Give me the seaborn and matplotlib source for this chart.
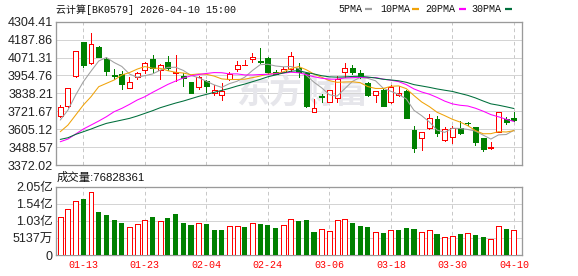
import numpy as np
import matplotlib
matplotlib.use("Agg")
import matplotlib.pyplot as plt
from matplotlib.lines import Line2D
import seaborn as sns

# ---------------- data ----------------
title_text = "云计算[BK0579] 2026-04-10 15:00"
dates = ["01-08", "01-09", "01-12", "01-13", "01-14", "01-15", "01-16", "01-19", "01-20", "01-21",
         "01-22", "01-23", "01-26", "01-27", "01-28", "01-29", "01-30", "02-02", "02-03", "02-04",
         "02-05", "02-06", "02-09", "02-10", "02-11", "02-12", "02-13", "02-24", "02-25", "02-26",
         "02-27", "03-02", "03-03", "03-04", "03-05", "03-06", "03-09", "03-10", "03-11", "03-12",
         "03-13", "03-16", "03-17", "03-18", "03-19", "03-20", "03-23", "03-24", "03-25", "03-26",
         "03-27", "03-30", "03-31", "04-01", "04-02", "04-03", "04-07", "04-08", "04-09", "04-10"]
date_ticks = ["01-13", "01-23", "02-04", "02-24", "03-06", "03-18", "03-30", "04-10"]

open_ = [3690.5, 3755.6, 3948.7, 4170.1, 4033.4, 4137.5, 4059.4, 3957.4, 3966.1, 3870.6,
         3942.2, 3987.8, 4061.6, 3989.9, 4039.9, 3968.3, 3950.9, 3909.7, 3881.5, 3918.3,
         3842.4, 3827.2, 3931.4, 3994.3, 4021.0, 4059.4, 4048.5, 4070.2, 3979.1, 3979.1,
         3994.3, 4000.8, 3968.3, 3714.4, 3820.7, 3783.8, 3805.5, 3979.1, 4005.1, 3970.4,
         3905.3, 3825.0, 3861.9, 3779.5, 3827.2, 3853.2, 3599.4, 3549.4, 3610.2, 3668.8,
         3534.3, 3553.8, 3610.2, 3645.0, 3616.7, 3545.1, 3480.0, 3588.5, 3673.1, 3675.3]
high = [3762.1, 3872.8, 4115.8, 4174.4, 4228.6, 4146.2, 4072.4, 3994.3, 3983.4, 3942.2,
        3979.1, 4044.2, 4087.6, 4026.8, 4081.1, 4090.0, 3968.3, 3914.0, 3948.7, 3922.7,
        3892.3, 3903.2, 3974.8, 4048.5, 4052.9, 4098.5, 4131.0, 4074.6, 3987.8, 4011.7,
        4109.3, 4033.4, 3974.8, 3801.2, 3833.7, 3862.0, 3953.1, 4037.7, 4022.5, 3989.9,
        3909.7, 3853.2, 3866.3, 3892.3, 3883.6, 3859.8, 3625.4, 3588.5, 3701.3, 3692.7,
        3621.0, 3625.4, 3658.0, 3653.6, 3621.0, 3549.4, 3519.0, 3718.7, 3686.2, 3718.7]
low = [3686.0, 3751.3, 3946.6, 4011.7, 4031.2, 4072.4, 3957.4, 3929.2, 3866.3, 3870.6,
       3929.2, 3972.6, 3979.1, 3929.2, 3989.9, 3916.0, 3888.0, 3838.0, 3866.3, 3848.9,
       3827.2, 3794.7, 3922.7, 3985.6, 4020.3, 4044.2, 4037.7, 3961.7, 3961.7, 3974.8,
       3983.4, 3942.2, 3751.3, 3714.4, 3783.8, 3779.5, 3779.5, 3944.4, 3966.1, 3935.7,
       3822.9, 3783.8, 3755.6, 3773.0, 3822.9, 3677.2, 3454.0, 3469.0, 3606.0, 3562.5,
       3527.7, 3512.5, 3575.5, 3632.0, 3501.7, 3464.8, 3477.8, 3586.3, 3636.2, 3660.0]
close = [3746.9, 3870.6, 4113.6, 4024.7, 4157.0, 4076.8, 3985.6, 3950.9, 3896.6, 3909.7,
         3972.6, 4037.7, 4005.1, 4020.3, 4000.8, 3975.0, 3935.7, 3842.4, 3944.4, 3888.0,
         3857.6, 3853.2, 3963.9, 4022.5, 4022.0, 4074.6, 4039.9, 3979.1, 3966.1, 3996.5,
         4083.3, 3974.8, 3757.8, 3740.4, 3814.2, 3857.6, 3929.2, 4000.8, 3979.1, 3942.2,
         3827.2, 3851.1, 3757.8, 3879.3, 3842.4, 3679.4, 3480.0, 3584.2, 3675.3, 3577.7,
         3603.7, 3614.5, 3577.7, 3642.8, 3523.4, 3473.5, 3486.5, 3714.4, 3653.6, 3662.3]

ma5 = [3664.5, 3729.6, 3827.2, 3914.0, 3982.6, 4048.5, 4071.5, 4039.0, 4013.4, 3963.9,
       3943.1, 3953.5, 3964.3, 3989.1, 4007.3, 4007.8, 3987.4, 3954.8, 3939.7, 3917.1,
       3893.6, 3877.1, 3901.4, 3917.0, 3943.8, 3987.2, 4024.6, 4027.6, 4016.3, 4011.2,
       4013.0, 4000.0, 3955.7, 3910.6, 3874.1, 3829.0, 3819.8, 3868.4, 3916.2, 3941.8,
       3935.7, 3920.1, 3871.5, 3851.5, 3831.6, 3802.0, 3727.8, 3693.1, 3652.3, 3599.3,
       3584.2, 3611.1, 3609.8, 3603.3, 3592.4, 3566.4, 3540.8, 3568.1, 3570.3, 3598.1]
ma10 = [3588.5, 3631.9, 3697.0, 3762.1, 3816.4, 3881.5, 3903.2, 3924.9, 3957.4, 3973.2,
        3995.8, 4012.5, 4001.7, 4001.2, 3985.6, 3975.4, 3970.4, 3959.6, 3964.4, 3962.2,
        3950.7, 3932.3, 3928.1, 3928.4, 3930.5, 3940.4, 3950.9, 3964.5, 3966.7, 3977.5,
        4000.1, 4012.3, 3991.7, 3963.5, 3942.7, 3921.0, 3909.9, 3912.1, 3913.4, 3907.9,
        3882.3, 3870.0, 3870.0, 3883.9, 3886.7, 3868.9, 3823.9, 3782.3, 3751.9, 3715.4,
        3693.1, 3669.4, 3651.4, 3627.8, 3595.9, 3575.3, 3575.9, 3588.9, 3586.8, 3595.2]
ma20 = [3523.4, 3540.8, 3573.3, 3605.9, 3631.9, 3658.0, 3686.2, 3718.7, 3740.4, 3766.4,
        3794.7, 3816.4, 3844.6, 3870.6, 3896.6, 3918.0, 3938.0, 3952.0, 3961.0, 3967.7,
        3973.3, 3972.4, 3964.9, 3964.8, 3958.1, 3957.9, 3960.7, 3962.1, 3965.6, 3969.9,
        3975.4, 3972.3, 3959.9, 3946.0, 3936.6, 3930.7, 3930.4, 3938.3, 3940.1, 3942.7,
        3941.2, 3941.1, 3930.8, 3923.7, 3914.7, 3895.0, 3866.9, 3847.2, 3832.7, 3811.7,
        3787.7, 3769.7, 3760.7, 3755.9, 3741.3, 3722.1, 3699.9, 3685.6, 3669.4, 3655.3]
ma30 = [3538.6, 3549.4, 3571.1, 3588.5, 3605.9, 3625.4, 3642.8, 3653.6, 3664.5, 3675.3,
        3690.5, 3707.9, 3725.2, 3744.7, 3760.0, 3775.0, 3788.1, 3803.3, 3818.5, 3831.5,
        3844.6, 3857.6, 3870.6, 3885.8, 3898.8, 3914.0, 3929.2, 3946.0, 3958.0, 3971.0,
        3982.2, 3985.7, 3973.8, 3964.4, 3952.9, 3945.6, 3943.7, 3945.4, 3948.2, 3949.2,
        3944.4, 3938.2, 3929.9, 3925.3, 3920.0, 3910.1, 3894.9, 3886.3, 3877.3, 3866.9,
        3858.5, 3850.6, 3837.7, 3825.1, 3808.4, 3788.4, 3769.9, 3761.1, 3750.7, 3739.5]

# volume in millions of shares
volume_m = [115.7, 138.6, 162.6, 169.6, 190.5, 130.7, 121.7, 106.7, 97.8, 84.8,
            93.8, 105.7, 115.7, 103.7, 112.7, 124.7, 97.8, 91.8, 97.8, 94.8,
            76.8, 76.8, 87.8, 87.8, 85.8, 96.8, 94.8, 91.8, 82.8, 90.8,
            108.7, 103.7, 105.7, 70.8, 78.8, 73.8, 105.7, 108.7, 97.8, 88.8,
            85.8, 70.8, 67.8, 75.8, 76.8, 81.8, 79.8, 70.8, 75.8, 64.8,
            55.9, 57.9, 64.8, 66.8, 61.8, 55.9, 48.9, 87.8, 79.8, 76.828361]
last_volume = 76828361

price_tick_labels = ["4304.41", "4187.86", "4071.31", "3954.76", "3838.21",
                     "3721.67", "3605.12", "3488.57", "3372.02"]
volume_tick_labels = ["2.05亿", "1.54亿", "1.03亿", "5137万", "0"]
volume_label = "成交量"
ma_labels = ["5PMA", "10PMA", "20PMA", "30PMA"]
watermark = "东方财富"

# ---------------- style ----------------
RED = "#ff0000"
GREEN = "#008000"
MA_COLORS = ["#a0a0a0", "#f0a30a", "#ff00ff", "#006f3c"]
GRID = "#d4d4d4"
SPINE = "#9a9a9a"

sns.set_theme(style="white")
plt.rcParams["font.family"] = ["Liberation Sans", "Noto Sans CJK SC", "DejaVu Sans"]
plt.rcParams["lines.scale_dashes"] = False
MONO = ["Liberation Mono", "Noto Sans CJK SC", "DejaVu Sans"]
SANS = ["Liberation Sans", "Noto Sans CJK SC", "DejaVu Sans"]

W, H, DPI = 578, 276, 100
PX = 72.0 / DPI  # points per pixel
fig = plt.figure(figsize=(W / DPI, H / DPI), dpi=DPI)
fig.patch.set_facecolor("white")


def px_axes(l, t, r, b):
    return fig.add_axes([l / W, 1 - b / H, (r - l) / W, (b - t) / H])


ax1 = px_axes(55.5, 21.7, 522, 165)
ax2 = px_axes(55.5, 186.7, 522, 255.3)

x = np.arange(len(dates))
o = np.array(open_); h = np.array(high); lo = np.array(low); c = np.array(close)
up = c >= o
xlim = (-0.62, 60.05)

# ---------------- candles ----------------
ax1.vlines(x, lo, h, colors=np.where(up, RED, GREEN), linewidth=1 * PX, zorder=3,
           antialiased=False)
bars = ax1.bar(x, np.abs(c - o), bottom=np.minimum(o, c), width=0.64,
               color=np.where(up, "white", GREEN), edgecolor=np.where(up, RED, GREEN),
               linewidth=1 * PX, zorder=4)
for p in bars.patches:
    p.set_antialiased(False)

for vals, col in zip([ma5, ma10, ma20, ma30], MA_COLORS):
    sns.lineplot(x=x, y=vals, color=col, linewidth=1.05 * PX, ax=ax1, zorder=5)

ax1.text((302 - 55.5) / 466.5, (165 - 94) / 143.3, watermark, transform=ax1.transAxes,
         ha="center", va="center", fontsize=33 * PX, color="#e6e6eb",
         fontweight="bold", family=["Noto Sans CJK SC"], zorder=1)

# ---------------- volume ----------------
vol = np.array(volume_m) * 1e6
vol_up = np.r_[True, c[1:] >= c[:-1]]
sns.barplot(x=x[~vol_up], y=vol[~vol_up], native_scale=True, width=0.66, color=GREEN,
            saturation=1, errorbar=None, linewidth=0, ax=ax2, zorder=3)
n_before = len(ax2.patches)
sns.barplot(x=x[vol_up], y=vol[vol_up], native_scale=True, width=0.64, color=RED,
            saturation=1, errorbar=None, linewidth=1 * PX, ax=ax2, zorder=3)
for i, p in enumerate(ax2.patches):
    p.set_antialiased(False)
    if i >= n_before:
        p.set_facecolor("white")
        p.set_edgecolor(RED)
        p.set_linewidth(1 * PX)


def parse_vol(s):
    if s.endswith("亿"):
        return float(s[:-1]) * 1e8
    if s.endswith("万"):
        return float(s[:-1]) * 1e4
    return float(s)


# ---------------- axes styling ----------------
tick_idx = [dates.index(d) for d in date_ticks]
for ax in (ax1, ax2):
    ax.set_xlim(*xlim)
    ax.set_xticks(tick_idx)
    ax.set_axisbelow(True)
    ax.grid(axis="x", color="#c8c8c8", linewidth=1 * PX, linestyle=(0, (2.6, 2.2)))
    ax.grid(axis="y", color=GRID, linewidth=1 * PX, linestyle="-")
    ax.tick_params(length=0, pad=1.8)
    ax.set_xlabel("")
    ax.set_ylabel("")
    for sp in ax.spines.values():
        sp.set_visible(True)
        sp.set_color(SPINE)
        sp.set_linewidth(1.3 * PX)

ax1.set_ylim(3372.02, 4304.41)
ax1.set_yticks([float(s) for s in price_tick_labels])
ax1.set_yticklabels(price_tick_labels, fontsize=9, color="#222222", family=SANS)
ax1.set_xticklabels([])

ax2.set_ylim(0, 2.05e8)
ax2.set_yticks([parse_vol(s) for s in volume_tick_labels])
ax2.set_yticklabels(volume_tick_labels, fontsize=9, color="#222222", family=SANS)
ax2.set_xticklabels(date_ticks, color=RED, fontsize=10 * PX, family=MONO)
ax2.tick_params(axis="x", pad=3.2)

# ---------------- header texts ----------------
fig.text(56 / W, 1 - 9.3 / H, title_text, ha="left", va="center",
         fontsize=10 * PX, color="#111111", family=MONO)

legend_text_x = [338.7, 380.3, 425.7, 471.3]
legend_mark_x = [365.0, 412.0, 459.0, 505.0]
for lab, tx, mx, col in zip(ma_labels, legend_text_x, legend_mark_x, MA_COLORS):
    fig.text(tx / W, 1 - 9.3 / H, lab, ha="left", va="center",
             fontsize=10 * PX, color="#111111", family=MONO)
    fig.add_artist(Line2D([mx / W, (mx + 6.5) / W], [1 - 9.3 / H, 1 - 9.3 / H],
                          color=col, linewidth=2.2 * PX, solid_capstyle="butt",
                          transform=fig.transFigure))

fig.text(57 / W, 1 - 177.7 / H, f"{volume_label}:{last_volume}", ha="left", va="center",
         fontsize=8.2, color="#111111", family=SANS)

fig.savefig("out.png", dpi=DPI, facecolor="white")
